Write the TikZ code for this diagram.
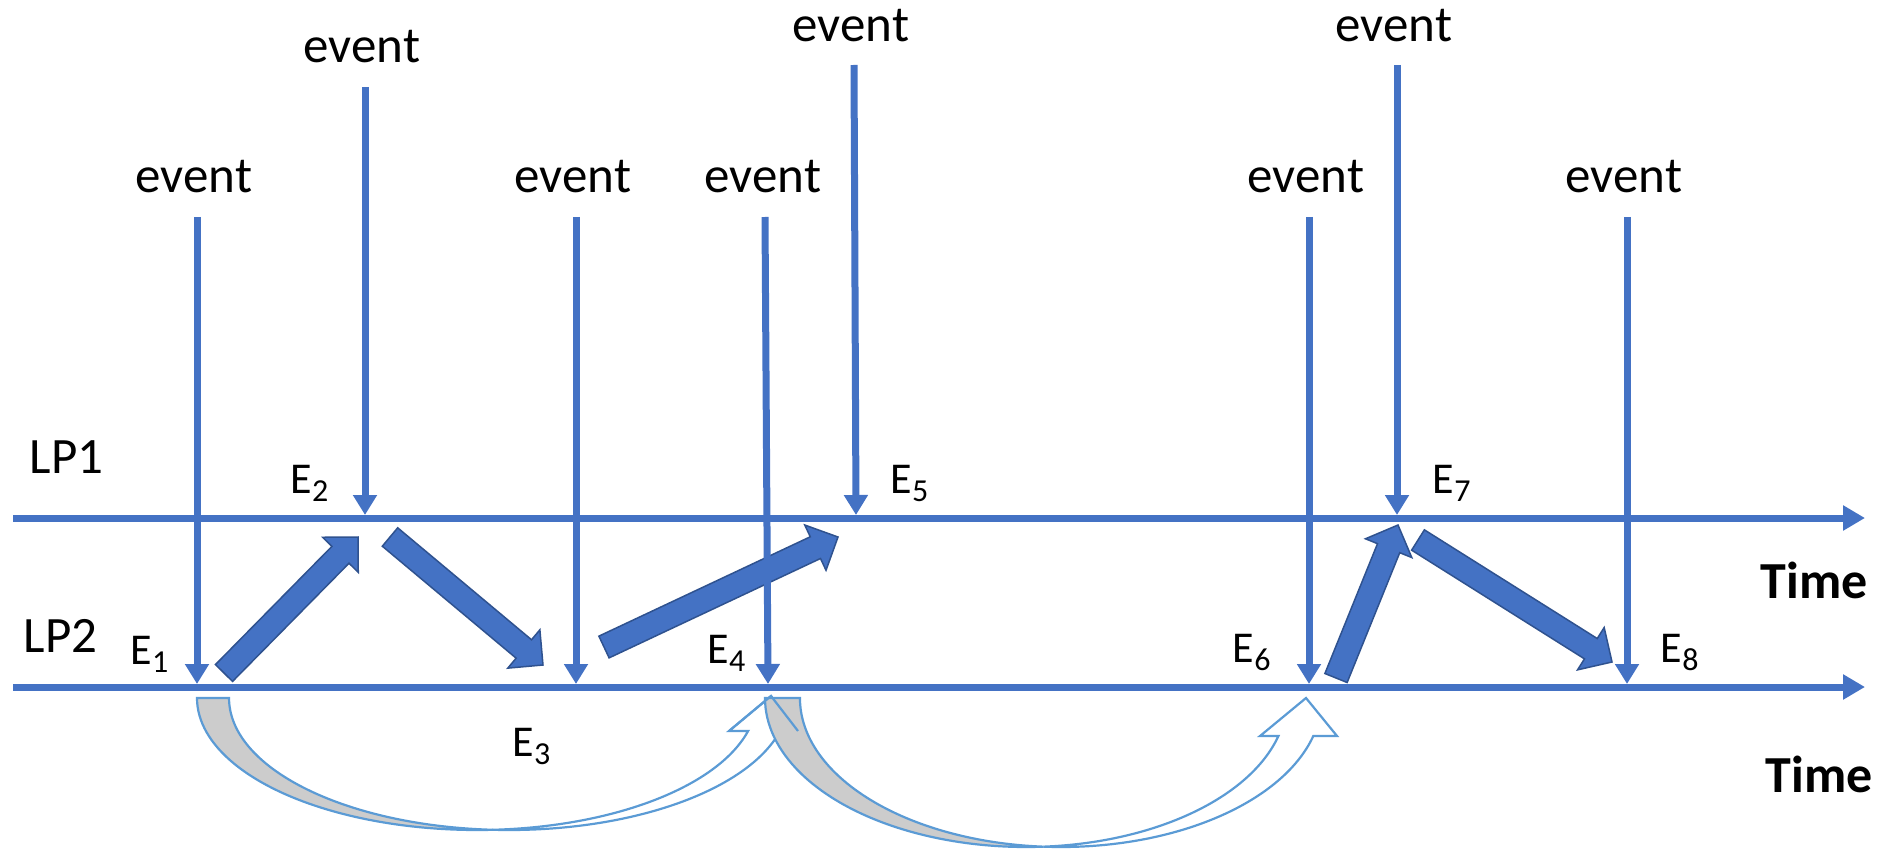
\documentclass[tikz,border=0pt]{standalone}
\usepackage{fontspec}
\setmainfont{Carlito}
\usetikzlibrary{arrows.meta,calc}

\definecolor{lpblue}{RGB}{68,114,196}
\definecolor{msgedge}{RGB}{47,82,143}
\definecolor{rollblue}{RGB}{91,155,213}
\definecolor{rollgray}{RGB}{204,204,204}

\tikzset{
  every picture/.style={line width=0.75pt},
  timeline/.style={draw=lpblue, line width=3.5pt, -{Triangle[length=11pt,width=12pt]}},
  evline/.style={draw=lpblue, line width=3.5pt, -{Triangle[length=10pt,width=11.5pt]}},
  evtext/.style={anchor=base, inner sep=0pt, font=\fontsize{25.5}{30}\selectfont},
  lptext/.style={anchor=base west, inner sep=0pt, font=\fontsize{25.5}{30}\selectfont},
  etext/.style={anchor=base west, inner sep=0pt, font=\fontsize{22}{26}\selectfont},
  timetext/.style={anchor=base west, inner sep=0pt, font=\fontsize{26}{30}\selectfont\bfseries},
  msgbody/.style={draw=msgedge, fill=lpblue, line width=0.75pt, line join=miter},
  rollback/.style={draw=rollblue, fill=rollgray, line width=1.1pt, line join=miter},
  rollfront/.style={draw=rollblue, fill=white, line width=1.1pt, line join=miter}
}

% event name with its index
\newcommand{\evname}[1]{E\raisebox{-4pt}{\fontsize{16}{16}\selectfont #1}}

% fat message arrow from #1 (send) to #2 (receive)
\newcommand{\sendarrow}[2]{%
  \path ($(#2)!12.5pt!(#1)$) coordinate (#2base);
  \draw[msgbody] ($(#1)!6pt!90:(#2)$) -- ($(#2base)!6pt!90:(#2)$) -- ($(#2base)!12.5pt!90:(#2)$) -- (#2)
    -- ($(#2base)!12.5pt!-90:(#2)$) -- ($(#2base)!6pt!-90:(#2)$) -- ($(#1)!6pt!-90:(#2)$) -- cycle;
}

\begin{document}
\begin{tikzpicture}[x=0.5pt,y=0.5pt,yscale=-1,xscale=1]
\useasboundingbox (0,0) rectangle (1883,850);

%Curved Up Arrow: rollback E1 -> E4
\filldraw[rollback] (197,698) arc[start angle=180, end angle=86.72, x radius=140pt, y radius=66pt] coordinate (rb1x)
  arc[start angle=93.28, end angle=180, x radius=140pt, y radius=66pt] -- cycle;
\filldraw[rollfront] (rb1x) arc[start angle=93.28, end angle=14.48, x radius=140pt, y radius=66pt]
  -- (798,731) -- (771,696) coordinate (rb1tip) -- (729,731) -- (748.1,731)
  arc[start angle=14.48, end angle=86.72, x radius=140pt, y radius=66pt] -- cycle;
%Curved Up Arrow: rollback E4 -> E6
\filldraw[rollback] (765,698) arc[start angle=180, end angle=86.16, x radius=130.5pt, y radius=74.5pt] coordinate (rb2x)
  arc[start angle=93.84, end angle=180, x radius=130.5pt, y radius=74.5pt] -- cycle;
\filldraw[rollfront] (rb2x) arc[start angle=93.84, end angle=14.78, x radius=130.5pt, y radius=74.5pt]
  -- (1337,736) -- (1306,698) -- (1260,736) -- (1278.4,736)
  arc[start angle=14.78, end angle=86.16, x radius=130.5pt, y radius=74.5pt] -- cycle;
% head edge of the first one stays on top
\draw[rollblue, line width=1.1pt, line join=miter] (729,731) -- (rb1tip) -- (798,731);

%Block Arrows: messages between LP1 and LP2
\coordinate (m1s) at (224,673);  \coordinate (m1r) at (358,537);
\coordinate (m2s) at (390,537);  \coordinate (m2r) at (543,665);
\coordinate (m3s) at (604,647);  \coordinate (m3r) at (838,537);
\coordinate (m4s) at (1336,678); \coordinate (m4r) at (1398,525);
\coordinate (m5s) at (1418,540); \coordinate (m5r) at (1612,662);
\sendarrow{m1s}{m1r}
\sendarrow{m2s}{m2r}
\sendarrow{m3s}{m3r}
\sendarrow{m4s}{m4r}
\sendarrow{m5s}{m5r}

%Straight Lines: time axes
\coordinate (lp1a) at (13,518);  \coordinate (lp1b) at (1865,518);
\coordinate (lp2a) at (13,687);  \coordinate (lp2b) at (1865,687);
\draw[timeline] (lp1a) -- (lp1b);
\draw[timeline] (lp2a) -- (lp2b);

% Text Node
\node[evtext] (ev1) at (194,193) {event};
\node[evtext] (ev2) at (362,63) {event};
\node[evtext] (ev3) at (573,193) {event};
\node[evtext] (ev4) at (763,193) {event};
\node[evtext] (ev5) at (851,42) {event};
\node[evtext] (ev6) at (1306,193) {event};
\node[evtext] (ev7) at (1394,42) {event};
\node[evtext] (ev8) at (1624,193) {event};

%Straight Lines: incoming events
\coordinate (t1) at (197,217);  \coordinate (h1) at (197,684);
\coordinate (t2) at (365,87);   \coordinate (h2) at (365,515);
\coordinate (t3) at (576,217);  \coordinate (h3) at (576,684);
\coordinate (t4) at (765,217);  \coordinate (h4) at (768,684);
\coordinate (t5) at (854,65);   \coordinate (h5) at (856,515);
\coordinate (t6) at (1309,217); \coordinate (h6) at (1309,684);
\coordinate (t7) at (1397,65);  \coordinate (h7) at (1397,515);
\coordinate (t8) at (1627,217); \coordinate (h8) at (1627,684);
\draw[evline] (t1) -- (h1);
\draw[evline] (t2) -- (h2);
\draw[evline] (t3) -- (h3);
\draw[evline] (t4) -- (h4);
\draw[evline] (t5) -- (h5);
\draw[evline] (t6) -- (h6);
\draw[evline] (t7) -- (h7);
\draw[evline] (t8) -- (h8);

% Text Node
\node[lptext] (lp1) at (29,473) {LP1};
\node[lptext] (lp2) at (23,652) {LP2};
\node[timetext] (time1) at (1760,598) {Time};
\node[timetext] (time2) at (1765,792) {Time};
% Text Node
\node[etext] (e1) at (130,664) {\evname{1}};
\node[etext] (e2) at (290,493) {\evname{2}};
\node[etext] (e3) at (512,756) {\evname{3}};
\node[etext] (e4) at (707,663) {\evname{4}};
\node[etext] (e5) at (890,493) {\evname{5}};
\node[etext] (e6) at (1232,662) {\evname{6}};
\node[etext] (e7) at (1432,493) {\evname{7}};
\node[etext] (e8) at (1660,662) {\evname{8}};

\end{tikzpicture}
\end{document}
